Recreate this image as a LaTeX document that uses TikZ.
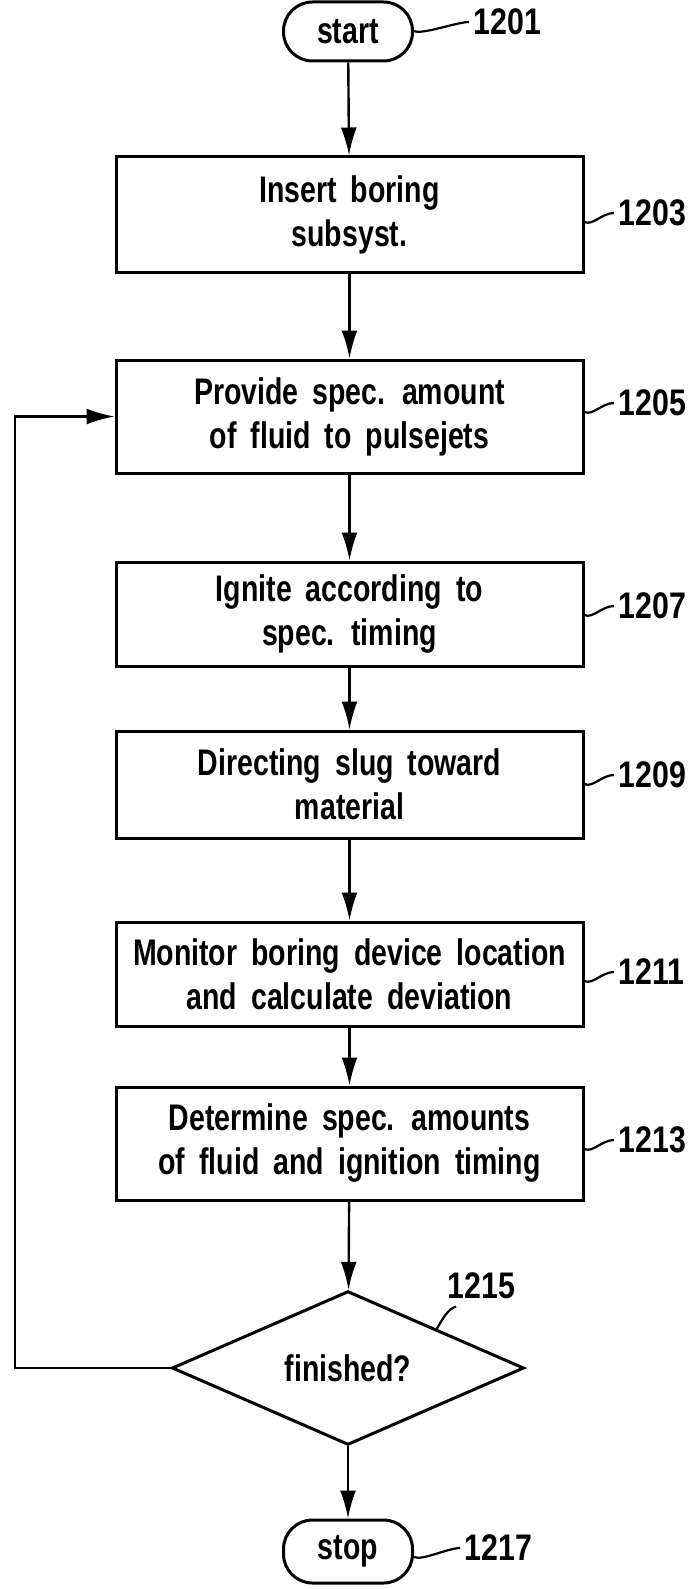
\documentclass[tikz,border=0pt]{standalone}
\usepackage{fontspec}
\setmainfont{Liberation Sans}[FakeStretch=0.77]
\newfontfamily\labfont{Liberation Sans}[FakeStretch=0.82]
\usetikzlibrary{shapes.geometric,arrows.meta}
\begin{document}
\begin{tikzpicture}[x=1pt,y=-1pt,
  line width=3pt,
  every node/.style={inner sep=0pt},
  stepbox/.style={draw,rectangle,minimum width=467pt,align=center,
    font=\bfseries\fontsize{37}{44}\selectfont,execute at begin node={\spaceskip=14pt plus 2pt}},
  term/.style={draw,rectangle,rounded corners=29pt,minimum width=129pt,
    font=\bfseries\fontsize{37}{44}\selectfont},
  decision/.style={draw,diamond,minimum width=352pt,minimum height=148pt,
    font=\bfseries\fontsize{37}{44}\selectfont},
  lab/.style={anchor=west,font=\labfont\bfseries\fontsize{37}{40}\selectfont},
  arr/.style={line width=2.4pt,-{Latex[length=28pt,width=16pt]}},
  lead/.style={line width=2.2pt}]
\useasboundingbox (0,0) rectangle (693,1589);

\node[term,minimum height=59pt] (start) at (348,31.5) {start};
\node[stepbox,minimum height=115pt] (b1203) at (349.5,214.5) {Insert boring\\subsyst.};
\node[stepbox,minimum height=113pt] (b1205) at (349.5,416.5) {Provide spec. amount\\of fluid to pulsejets};
\node[stepbox,minimum height=104pt] (b1207) at (349.5,614) {Ignite according to\\spec. timing};
\node[stepbox,minimum height=107pt] (b1209) at (349.5,784.5) {Directing slug toward\\material};
\node[stepbox,minimum height=104pt] (b1211) at (349.5,974) {Monitor boring device location\\and calculate deviation};
\node[stepbox,minimum height=113pt] (b1213) at (349.5,1143.5) {Determine spec. amounts\\of fluid and ignition timing};
\node[decision] (dia) at (348,1368) {finished?};
\node[term,minimum height=63pt] (stop) at (348,1551.5) {stop};

\node[lab] (l1201) at (472,22) {1201};
\node[lab] (l1203) at (617,213) {1203};
\node[lab] (l1205) at (617,403) {1205};
\node[lab] (l1207) at (617,606) {1207};
\node[lab] (l1209) at (617,775) {1209};
\node[lab] (l1211) at (617,972) {1211};
\node[lab] (l1213) at (617,1140) {1213};
\node[lab] (l1215) at (446,1286) {1215};
\node[lab] (l1217) at (463,1548) {1217};

\coordinate (bend1) at (15,1368);

\draw[arr] (start) -- (b1203);
\draw[arr] (b1203) -- (b1205);
\draw[arr] (b1205) -- (b1207);
\draw[arr] (b1207) -- (b1209);
\draw[arr] (b1209) -- (b1211);
\draw[arr] (b1211) -- (b1213);
\draw[arr] (b1213) -- (dia);
\draw[arr] (dia) -- (stop);
\draw[arr] (dia.west) -- (bend1) |- (b1205.west);

\foreach \b/\l in {start/l1201,b1203/l1203,b1205/l1205,b1207/l1207,b1209/l1209,b1211/l1211,b1213/l1213,stop/l1217}{
  \draw[lead] (\b.east |- \l.west) ++(0,9) .. controls +(8,4) and +(-12,0) .. ([xshift=-3pt]\l.west);
}
\draw[lead] (dia.north east) .. controls +(6,-10) and +(-8,2) .. ([xshift=10pt,yshift=-6pt]l1215.south west);
\end{tikzpicture}
\end{document}
